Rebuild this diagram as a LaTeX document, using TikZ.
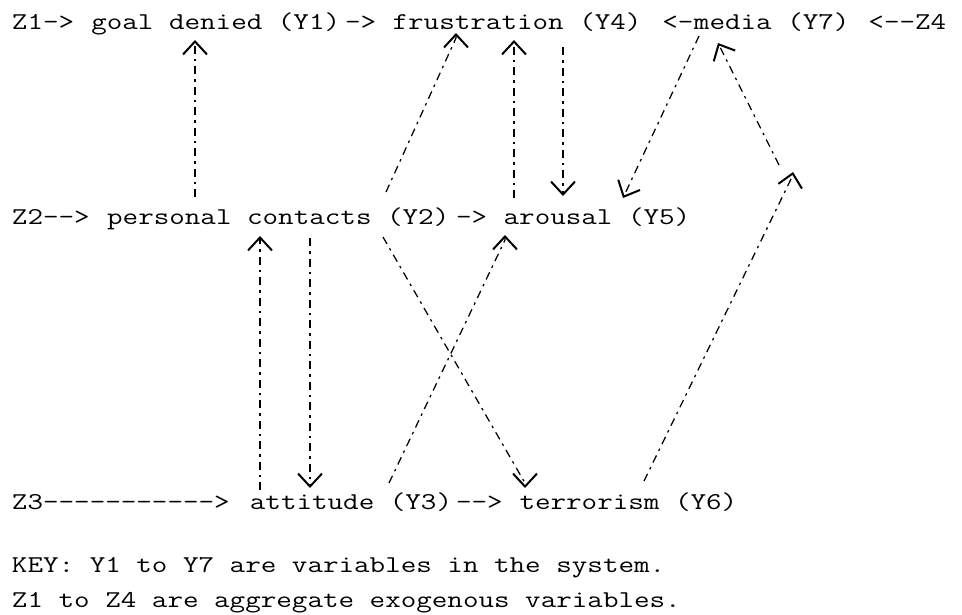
\documentclass[tikz,border=0pt]{standalone}
\usepackage{fontspec}
\usepackage{graphicx}
\usetikzlibrary{arrows.meta,calc}

% character cell width of the monospaced grid
\def\cw{15.86}
% typewriter text, squeezed a little in height
\newcommand{\tw}[1]{\scalebox{1}[0.8]{#1}}

\begin{document}
\begin{tikzpicture}[x=1pt,y=-1pt,
  txt/.style={anchor=base west, inner sep=0pt, outer sep=0pt,
              font=\fontsize{30.2}{34}\selectfont\ttfamily},
  conn/.style={line width=1.25pt,
               dash pattern=on 8pt off 5pt on 2.5pt off 5pt,
               -{Straight Barb[length=13pt,width=24pt,line width=2pt]}}
]
\useasboundingbox (0,0) rectangle (962,614);

% row 1
\node[txt] (z1) at (12,29) {\tw{Z1->}};
\node[txt] (y1) at ({12+5*\cw},29) {\tw{goal denied (Y1)}};
\node[txt] (r1) at ({12+21*\cw},29) {\tw{->}};
\node[txt] (y4) at ({12+24*\cw},29) {\tw{frustration (Y4)}};
\node[txt] (r2) at ({12+41*\cw},29) {\tw{<-}};
\node[txt] (y7) at ({12+43*\cw},29) {\tw{media (Y7)}};
\node[txt] (z4) at ({12+54*\cw},29) {\tw{<--Z4}};

% row 2
\node[txt] (z2) at (12,224) {\tw{Z2-->}};
\node[txt] (y2) at ({12+6*\cw},224) {\tw{personal contacts (Y2)}};
\node[txt] (r3) at ({12+28*\cw},224) {\tw{->}};
\node[txt] (y5) at ({12+31*\cw},224) {\tw{arousal (Y5)}};

% row 3
\node[txt] (z3) at (12,509) {\tw{Z3----------->}};
\node[txt] (y3) at ({12+15*\cw},509) {\tw{attitude (Y3)}};
\node[txt] (r4) at ({12+28*\cw},509) {\tw{-->}};
\node[txt] (y6) at ({12+32*\cw},509) {\tw{terrorism (Y6)}};

% key
\node[txt] (key1) at (12,572) {\tw{KEY: Y1 to Y7 are variables in the system.}};
\node[txt] (key2) at (12,607) {\tw{Z1 to Z4 are aggregate exogenous variables.}};

% bend of the terrorism -> media path
\coordinate (turn) at (786,168);

% Y2 -> Y1
\draw[conn] ($(y2.base west)+(87.84,-27)$) -- ($(y1.base west)+(103.7,11)$);
% Y2 -> Y4
\draw[conn] ($(y2.base west)+(278.84,-32)$) -- ($(y4.base west)+(63.36,9)$)
            -- ($(y4.base west)+(63.36,4)$);
% Y5 -> Y4
\draw[conn] ($(y5.base west)+(10.34,-26)$) -- ($(y4.base west)+(121.36,11)$);
% Y4 -> Y5
\draw[conn] ($(y4.base west)+(170.36,18)$) -- ($(y5.base west)+(59.34,-28)$);
% Y7 -> Y5
\draw[conn] ($(y7.base west)+(5.02,7)$) -- ($(y5.base west)+(119.34,-26)$);
% Y6 -> Y7, with a head at the turn
\draw[conn] ($(y6.base west)+(124.48,-28)$) -- ($(turn)+(6,9)$) -- ($(turn)+(7,4)$);
\draw[conn] ($(turn)+(-7,-3)$) -- ($(y7.base west)+(24.02,14)$);
% Y2 -> Y6
\draw[conn] ($(y2.base west)+(275.84,13)$) -- ($(y6.base west)+(5.48,-26)$)
            -- ($(y6.base west)+(5.48,-21)$);
% Y3 -> Y5
\draw[conn] ($(y3.base west)+(139.1,-26)$) -- ($(y5.base west)+(1.34,16)$)
            -- ($(y5.base west)+(1.34,11)$);
% Y3 -> Y2
\draw[conn] ($(y3.base west)+(10.1,-19)$) -- ($(y2.base west)+(152.84,12)$);
% Y2 -> Y3
\draw[conn] ($(y2.base west)+(202.84,14)$) -- ($(y3.base west)+(60.1,-21)$);
\end{tikzpicture}
\end{document}
